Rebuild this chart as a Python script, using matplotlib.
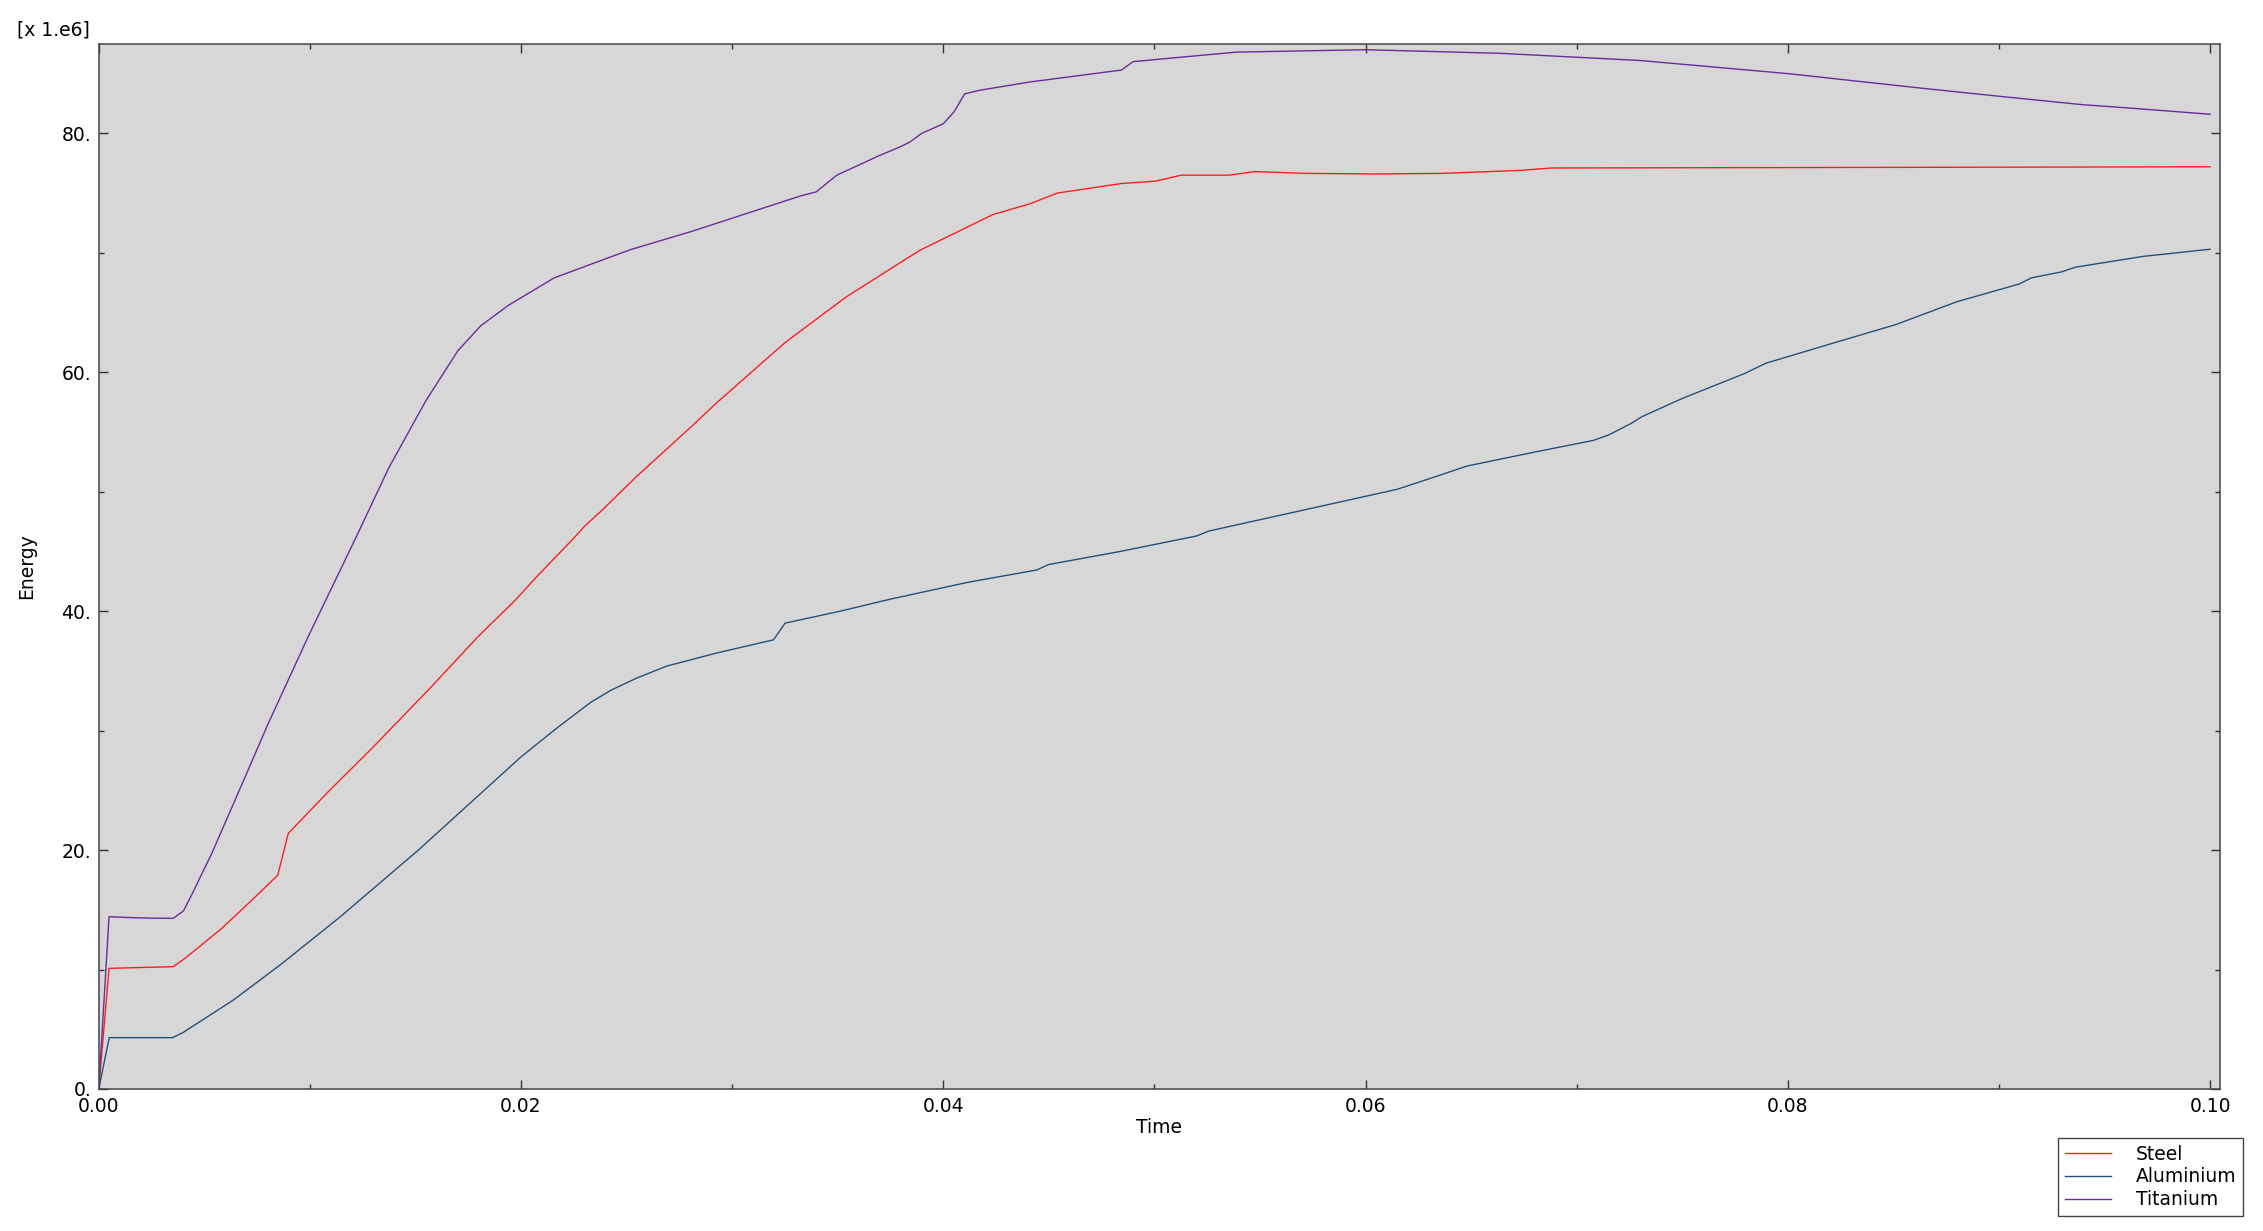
import matplotlib
matplotlib.use("Agg")
import matplotlib.pyplot as plt
from matplotlib.ticker import MultipleLocator, FixedFormatter, FixedLocator

# ─── DATA (energy in units of 1e6) ──────────────────────────────────────────
ti_t = [0, 0.00049, 0.0015, 0.0025, 0.00353, 0.00401, 0.0044, 0.00535, 0.00661,
        0.00803, 0.00993, 0.01222, 0.01374, 0.01549,
        0.01701, 0.0181, 0.0194, 0.02157, 0.02462, 0.02525, 0.0281, 0.03322,
        0.03398, 0.03496, 0.03692, 0.038, 0.03844, 0.03898, 0.0400, 0.04051,
        0.04101, 0.0417, 0.0441, 0.04844, 0.04899, 0.05018, 0.05388, 0.0600,
        0.06638, 0.0730, 0.08001, 0.08624, 0.09003, 0.09396, 0.09594, 0.1000]
ti_e = [0, 14.42, 14.35, 14.3, 14.29, 14.9, 16.24, 19.7, 24.8,
        30.6, 37.9, 46.3, 52.0, 57.6,
        61.8, 63.9, 65.6, 67.9, 69.9, 70.3, 71.8, 74.75,
        75.1, 76.5, 78.1, 78.9, 79.3, 80.0, 80.8, 81.8,
        83.3, 83.6, 84.3, 85.3, 86.0, 86.2, 86.8, 87.0,
        86.7, 86.1, 85.0, 83.8, 83.1, 82.4, 82.15, 81.6]

st_t = [0, 0.00049, 0.00353, 0.00409, 0.00583, 0.00725, 0.00848, 0.00898, 0.01088,
        0.01293, 0.01561, 0.01798, 0.01972, 0.0207, 0.02244, 0.02306, 0.02375,
        0.02549, 0.0281, 0.02918, 0.03245, 0.0332, 0.0354, 0.03888, 0.04235,
        0.0441, 0.0454, 0.04844, 0.05007, 0.05127, 0.05355, 0.05475, 0.05714,
        0.0604, 0.06366, 0.06733, 0.06881, 0.1000]
st_e = [0, 10.1, 10.24, 10.94, 13.45, 15.8, 17.9, 21.4, 24.9,
        28.5, 33.4, 37.9, 40.9, 42.8, 46.0, 47.2, 48.3,
        51.3, 55.5, 57.3, 62.4, 63.4, 66.3, 70.2, 73.2,
        74.1, 75.0, 75.8, 76.0, 76.5, 76.5, 76.8, 76.65,
        76.6, 76.65, 76.9, 77.1, 77.2]

al_t = [0, 0.0005, 0.0035, 0.00398, 0.00638, 0.00764, 0.00859, 0.01143, 0.01514,
        0.0200, 0.02176, 0.02333, 0.02428, 0.02548, 0.0269, 0.02927, 0.03196,
        0.03251, 0.03512, 0.03748, 0.04112, 0.04443, 0.04498, 0.04838, 0.05201,
        0.05256, 0.0569, 0.06149, 0.06338, 0.0648, 0.06796, 0.0708, 0.07151,
        0.07212, 0.07256, 0.07311, 0.07499, 0.07796, 0.07895, 0.08226, 0.08513,
        0.088, 0.09098, 0.09153, 0.09296, 0.09363, 0.09683, 0.1000]
al_e = [0, 4.3, 4.3, 4.71, 7.45, 9.12, 10.38, 14.4, 20.0,
        27.8, 30.3, 32.4, 33.4, 34.4, 35.4, 36.5, 37.6,
        39.0, 40.0, 41.0, 42.4, 43.45, 43.9, 45.0, 46.3,
        46.7, 48.4, 50.2, 51.3, 52.15, 53.3, 54.3, 54.75,
        55.3, 55.7, 56.3, 57.8, 59.9, 60.75, 62.5, 64.0,
        65.9, 67.4, 67.9, 68.4, 68.8, 69.7, 70.3]

x_ticks = [0.0, 0.02, 0.04, 0.06, 0.08, 0.10]
x_labels = ["0.00", "0.02", "0.04", "0.06", "0.08", "0.10"]
y_ticks = [0, 20, 40, 60, 80]
y_labels = ["0.", "20.", "40.", "60.", "80."]

FS = 13.5
plt.rcParams["font.family"] = ["DejaVu Sans"]

fig = plt.figure(figsize=(22.63, 12.31), dpi=100)
fig.patch.set_facecolor("white")
ax = fig.add_axes([98.7 / 2263, 1 - 1089 / 1231, (2220 - 98.7) / 2263, (1089 - 44) / 1231])
ax.set_facecolor("#d7d7d7")

ax.plot(st_t, st_e, color="#ff1e1e", lw=1.0, label="Steel")
ax.plot(al_t, al_e, color="#24507a", lw=1.0, label="Aluminium")
ax.plot(ti_t, ti_e, color="#6a2c9c", lw=1.0, label="Titanium")

ax.set_xlim(0, 0.10047)
ax.set_ylim(0, 87.48)

ax.xaxis.set_major_locator(FixedLocator(x_ticks))
ax.xaxis.set_major_formatter(FixedFormatter(x_labels))
ax.xaxis.set_minor_locator(MultipleLocator(0.01))
ax.yaxis.set_major_locator(FixedLocator(y_ticks))
ax.yaxis.set_major_formatter(FixedFormatter(y_labels))
ax.yaxis.set_minor_locator(MultipleLocator(10))

ax.tick_params(which="both", direction="in", top=True, right=True,
               colors="#333333", labelcolor="black", labelsize=FS, pad=5.5)
ax.tick_params(which="major", length=6.5, width=1.0)
ax.tick_params(which="minor", length=3.6, width=1.0)
for sp in ax.spines.values():
    sp.set_edgecolor("#444444")
    sp.set_linewidth(1.1)

ax.set_xlabel("Time", fontsize=FS, labelpad=2)
ax.set_ylabel("Energy", fontsize=FS, labelpad=18)

fig.text(17 / 2263, 1 - 20 / 1231, "[x 1.e6]", fontsize=FS, ha="left", va="top")

leg = fig.legend(loc="upper left", bbox_to_anchor=(2058 / 2263, 1 - 1138 / 1231),
                 fontsize=FS, frameon=True, fancybox=False, framealpha=1,
                 edgecolor="#444444", handlelength=2.5, handletextpad=1.3,
                 labelspacing=0.2, borderpad=0.35, borderaxespad=0)
leg.get_frame().set_linewidth(1.0)

fig.savefig("out.png", dpi=100, facecolor="white")
